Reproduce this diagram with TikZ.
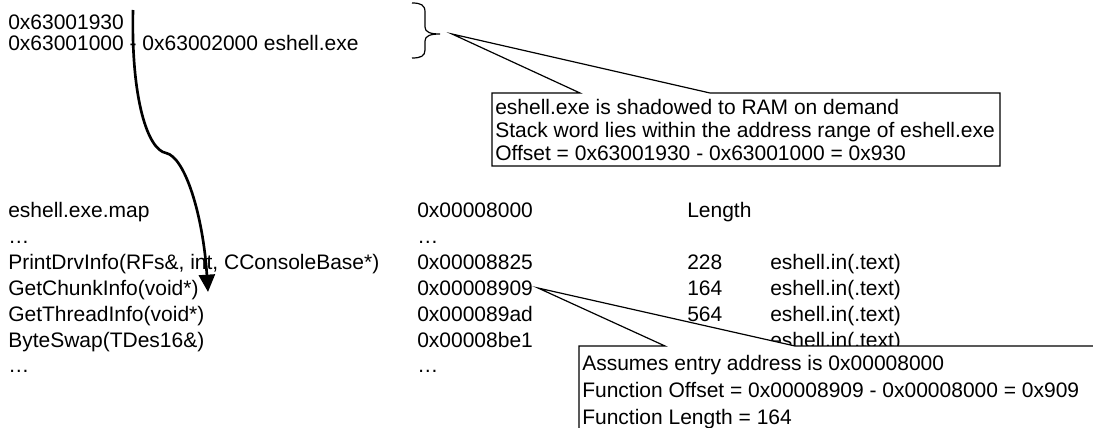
\documentclass[tikz,border=0pt]{standalone}
\usepackage{fontspec}
\setmainfont{Liberation Sans}
\usetikzlibrary{arrows.meta}
\begin{document}
\begin{tikzpicture}[x=0.75pt,y=-0.75pt,
  txt/.style={anchor=base west, inner sep=0pt, font=\fontsize{15.75pt}{18pt}\selectfont},
  callout/.style={draw=black, line width=0.9pt, fill=white, line join=miter},
  bracestyle/.style={draw=black, line width=0.9pt},
  flow/.style={draw=black, line width=2pt, -{Triangle[length=13pt,width=12pt]}}]
\useasboundingbox (0,0) rectangle (1093,428);
\clip (0,0) rectangle (1093,428);
% top addresses
\node[txt] (s1) at (8,29.5) {0x63001930};
\node[txt] (s2) at (8,50.5) {0x63001000 - 0x63002000 eshell.exe};
\coordinate (btop) at (412,3);
\coordinate (bbot) at (412,58);
\coordinate (bmid) at (440,34);
\draw[bracestyle] (btop) .. controls (421,3) and (425,5) .. (425,12) -- (425,27)
  .. controls (425,32) and (430,34) .. (bmid)
  .. controls (430,34) and (425,36) .. (425,41) -- (425,50)
  .. controls (425,56) and (421,58) .. (bbot);
% map table
\node[txt] (l1) at (8,217.5) {eshell.exe.map};
\node[txt] (l2) at (8,243.4) {…};
\node[txt] (l3) at (8,269.3) {PrintDrvInfo(RFs\&, int, CConsoleBase*)};
\node[txt] (l4) at (8,295.2) {GetChunkInfo(void*)};
\node[txt] (l5) at (8,321.1) {GetThreadInfo(void*)};
\node[txt] (l6) at (8,347) {ByteSwap(TDes16\&)};
\node[txt] (l7) at (8,372.9) {…};
\node[txt] (a1) at (417,217.5) {0x00008000};
\node[txt] (a2) at (417,243.4) {…};
\node[txt] (a3) at (417,269.3) {0x00008825};
\node[txt] (a4) at (417,295.2) {0x00008909};
\node[txt] (a5) at (417,321.1) {0x000089ad};
\node[txt] (a6) at (417,347) {0x00008be1};
\node[txt] (a7) at (417,372.9) {…};
\node[txt] (n1) at (687,217.5) {Length};
\node[txt] (n3) at (687,269.3) {228};
\node[txt] (n4) at (687,295.2) {164};
\node[txt] (n5) at (687,321.1) {564};
\node[txt] (e3) at (770,269.3) {eshell.in(.text)};
\node[txt] (e4) at (770,295.2) {eshell.in(.text)};
\node[txt] (e5) at (770,321.1) {eshell.in(.text)};
\node[txt] (e6) at (770,347) {eshell.in(.text)};
% callout 1
\coordinate (c1tip) at (452,34);
\draw[callout] (492,93) -- (580,93) -- (c1tip) -- (710,93) -- (1000,93) -- (1000,166) -- (492,166) -- cycle;
\node[txt] (t1) at (495,114.5) {eshell.exe is shadowed to RAM on demand};
\node[txt] (t2) at (495,137.5) {Stack word lies within the address range of eshell.exe};
\node[txt] (t3) at (495,160.5) {Offset = 0x63001930 - 0x63001000 = 0x930};
% callout 2
\coordinate (c2tip) at (538,288);
\draw[callout] (579,346) -- (665,346) -- (c2tip) -- (795,346) -- (1120,346) -- (1120,450) -- (579,450) -- cycle;
\node[txt] (u1) at (582,370.5) {Assumes entry address is 0x00008000};
\node[txt] (u2) at (582,397.5) {Function Offset = 0x00008909 - 0x00008000 = 0x909};
\node[txt] (u3) at (582,424.3) {Function Length = 164};
% stack word arrow
\coordinate (cstart) at (133,10);
\coordinate (cend) at (208,292);
\draw[flow] (cstart) .. controls (131,100) and (148,150) .. (166,153) .. controls (185,157) and (203,215) .. (cend);
\end{tikzpicture}
\end{document}
